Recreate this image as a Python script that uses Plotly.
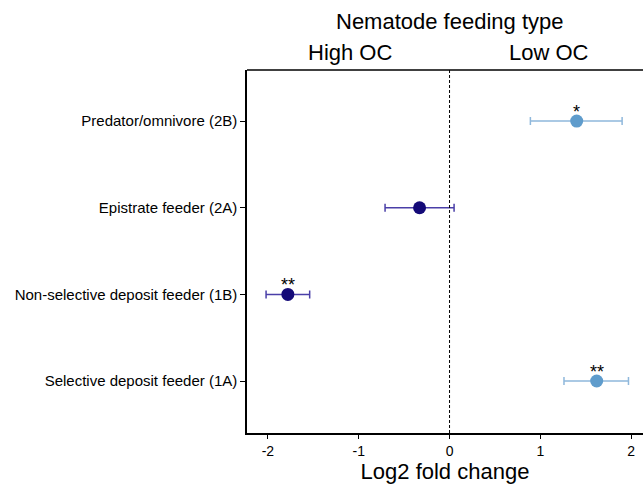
import plotly.graph_objects as go

categories = ["Selective deposit feeder (1A)", "Non-selective deposit feeder (1B)",
              "Epistrate feeder (2A)", "Predator/omnivore (2B)"]
log2fc = [1.62, -1.78, -0.33, 1.40]
ci_low = [1.26, -2.02, -0.71, 0.89]
ci_high = [1.97, -1.54, 0.05, 1.90]
signif = ["**", "**", "", "*"]
x_ticks = [-2, -1, 0, 1, 2]

dark = "#140a78"
dark_err = "#4a3fa8"
light = "#5f9ccc"
light_err = "#8fb8dc"

fig = go.Figure()
ypos = list(range(len(categories)))
for i, cat in enumerate(categories):
    neg = log2fc[i] < 0
    fig.add_trace(go.Scatter(
        x=[log2fc[i]], y=[ypos[i]], mode="markers",
        marker=dict(size=13, color=dark if neg else light),
        error_x=dict(type="data", symmetric=False,
                     array=[ci_high[i] - log2fc[i]],
                     arrayminus=[log2fc[i] - ci_low[i]],
                     color=dark_err if neg else light_err, thickness=1.5, width=4),
        showlegend=False, hoverinfo="skip"))
    if signif[i]:
        fig.add_annotation(x=log2fc[i], y=ypos[i], text=signif[i], showarrow=False,
                           yshift=9, font=dict(size=18, color="black"))

fig.add_vline(x=0, line=dict(color="black", width=1, dash="3px,2px"))
fig.add_shape(type="line", xref="paper", yref="paper", x0=0, x1=1, y0=1, y1=1,
              line=dict(color="black", width=1.5))

fig.add_annotation(xref="x", yref="paper", x=0, y=1, yshift=49, text="Nematode feeding type",
                   showarrow=False, font=dict(size=22, color="black"), yanchor="middle")
fig.add_annotation(xref="x", yref="paper", x=-1.1, y=1, yshift=18, text="High OC",
                   showarrow=False, font=dict(size=22, color="black"), yanchor="middle")
fig.add_annotation(xref="x", yref="paper", x=1.09, y=1, yshift=18, text="Low OC",
                   showarrow=False, font=dict(size=22, color="black"), yanchor="middle")

fig.update_layout(
    width=643, height=488,
    margin=dict(l=247, r=0, t=70, b=55),
    plot_bgcolor="white", paper_bgcolor="white",
    font=dict(family="Liberation Sans, Arial, sans-serif", color="black"),
    xaxis=dict(range=[-2.23, 2.13], tickvals=x_ticks, ticktext=[str(v) for v in x_ticks],
               showgrid=False, zeroline=False, showline=True, linecolor="black", linewidth=1.5,
               ticks="outside", ticklen=4, tickcolor="black", tickfont=dict(size=14),
               automargin=False,
               title=dict(text="Log2 fold change", font=dict(size=22), standoff=6)),
    yaxis=dict(range=[-0.6, 3.59], tickvals=ypos, ticktext=categories, automargin=False,
               showgrid=False, zeroline=False, showline=True, linecolor="black", linewidth=1.5,
               ticks="outside", ticklen=5, tickcolor="black", tickfont=dict(size=15)),
)

fig.write_html("out.html", config={"displayModeBar": False},
               post_script="document.body.style.margin='0';document.body.style.overflow='hidden';")
